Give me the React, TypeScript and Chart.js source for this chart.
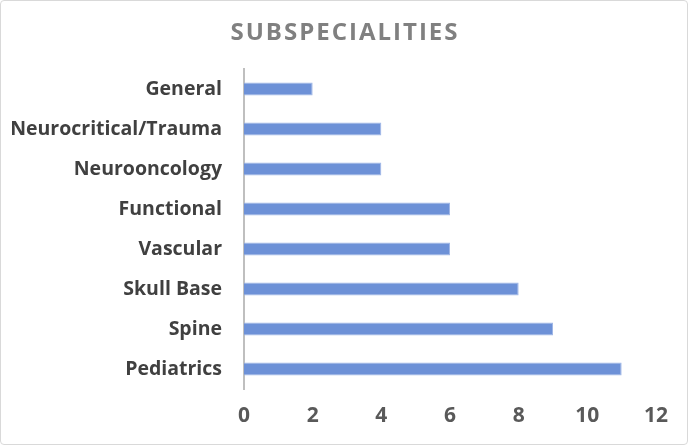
import { useEffect, useRef } from "react";
import { Chart, registerables } from "chart.js";

Chart.register(...registerables);

const categories = [
  "General",
  "Neurocritical/Trauma",
  "Neurooncology",
  "Functional",
  "Vascular",
  "Skull Base",
  "Spine",
  "Pediatrics",
];
const counts = [2, 4, 4, 6, 6, 8, 9, 11];
const chartTitle = "SUBSPECIALITIES";

const FONT = "'Open Sans', Lato, sans-serif";

const titlePlugin = {
  id: "spacedTitle",
  afterDraw(chart: Chart) {
    const ctx = chart.ctx as CanvasRenderingContext2D & { letterSpacing?: string };
    ctx.save();
    ctx.font = `bold 24px ${FONT}`;
    ctx.fillStyle = "#808080";
    ctx.textAlign = "center";
    ctx.textBaseline = "middle";
    ctx.letterSpacing = "2px";
    ctx.fillText(chartTitle, chart.width / 2 + 1, 32);
    ctx.restore();
  },
};

export default function App() {
  const ref = useRef<HTMLCanvasElement>(null);

  useEffect(() => {
    document.body.style.margin = "0";
    if (!ref.current) return;
    const chart = new Chart(ref.current, {
      type: "bar",
      data: {
        labels: categories,
        datasets: [
          {
            data: counts,
            backgroundColor: "#6d91d7",
            borderColor: "#9fb6e6",
            borderWidth: 1,
            barPercentage: 0.62,
            categoryPercentage: 0.52,
          },
        ],
      },
      plugins: [titlePlugin],
      options: {
        indexAxis: "y",
        animation: false,
        responsive: false,
        layout: { padding: { top: 68, right: 31, left: 0, bottom: 0 } },
        plugins: { legend: { display: false }, tooltip: { enabled: false }, title: { display: false } },
        scales: {
          x: {
            min: 0,
            max: 12,
            grid: { display: false, drawTicks: false },
            border: { display: false },
            ticks: { stepSize: 2, padding: 14, color: "#595959", font: { family: FONT, size: 21, weight: "bold" } },
            afterFit: (s) => { s.height = 55; },
          },
          y: {
            grid: { display: false, drawTicks: false },
            border: { color: "#bfbfbf", width: 2 },
            ticks: { padding: 22, color: "#404040", font: { family: FONT, size: 19.5, weight: "bold" } },
            afterFit: (s) => { s.width = 243; },
          },
        },
      },
    });
    return () => chart.destroy();
  }, []);

  return (
    <div style={{ position: "relative", width: 688, height: 445, boxSizing: "border-box", border: "1px solid #d9d9d9", borderRadius: 4, background: "#fff" }}>
      <canvas ref={ref} width={686} height={443} style={{ position: "absolute", left: 0, top: 0 }} />
    </div>
  );
}
